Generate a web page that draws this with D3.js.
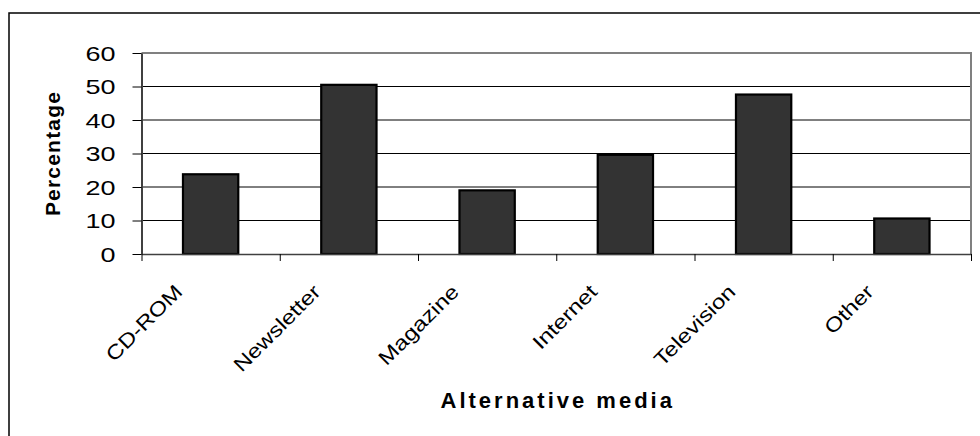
<!DOCTYPE html>
<html>
<head>
<meta charset="utf-8">
<script src="https://cdn.jsdelivr.net/npm/d3@7"></script>
<style>
  html, body { margin: 0; padding: 0; background: #fff; }
  svg { display: block; }
  text { font-family: "Liberation Sans", Arial, sans-serif; fill: #000; }
</style>
</head>
<body>
<svg id="chart" width="980" height="436"></svg>
<script>
// Share of respondents naming each alternative medium
const categories = ["CD-ROM", "Newsletter", "Magazine", "Internet", "Television", "Other"];
const percentages = [23.8, 50.5, 19, 29.6, 47.6, 10.6];
const yTickValues = [0, 10, 20, 30, 40, 50, 60];
const xTitle = "Alternative media";
const yTitle = "Percentage";

const svg = d3.select("#chart");

const plot = { left: 141.5, right: 971, top: 53, bottom: 254 };

// Outer chart frame (runs off the right and bottom edges)
svg.append("rect")
  .attr("x", 9).attr("y", 13)
  .attr("width", 1100).attr("height", 600)
  .attr("fill", "none").attr("stroke", "#000").attr("stroke-width", 1.5);

const y = d3.scaleLinear().domain([0, 60]).range([plot.bottom, plot.top]);
const x = d3.scaleBand().domain(categories)
  .range([plot.left, plot.right])
  .paddingInner(0.6).paddingOuter(0.3);
const xEdges = d3.scaleLinear().domain([0, categories.length]).range([plot.left, plot.right]);

// Horizontal gridlines
svg.append("g")
  .selectAll("line")
  .data(yTickValues.filter(v => v > 0 && v < 60))
  .join("line")
  .attr("x1", plot.left).attr("x2", plot.right)
  .attr("y1", d => y(d)).attr("y2", d => y(d))
  .attr("stroke", "#000").attr("stroke-width", 1);

// Plot-area border: top and right edges in grey
svg.append("path")
  .attr("d", `M${plot.left},${y(60)}H${plot.right}V${plot.bottom}`)
  .attr("fill", "none").attr("stroke", "#808080").attr("stroke-width", 2);

// Bars
svg.append("g")
  .selectAll("rect")
  .data(categories.map((c, i) => ({ c, v: percentages[i] })))
  .join("rect")
  .attr("x", d => x(d.c))
  .attr("y", d => y(d.v))
  .attr("width", x.bandwidth())
  .attr("height", d => y(0) - y(d.v))
  .attr("fill", "#333333")
  .attr("stroke", "#000").attr("stroke-width", 2.2);

// Y axis
const yAxis = svg.append("g")
  .attr("transform", `translate(${plot.left},0)`)
  .call(d3.axisLeft(y).tickValues(yTickValues).tickSize(9).tickPadding(0).tickSizeOuter(0));
yAxis.select(".domain").attr("stroke", "#404040").attr("stroke-width", 2);
yAxis.selectAll(".tick line").attr("stroke", "#000").attr("stroke-width", 1);
yAxis.selectAll(".tick text")
  .attr("x", null).attr("dy", "0.36em")
  .attr("transform", "translate(-26,0) scale(1.35,1)")
  .attr("text-anchor", "end")
  .style("font-size", "20px")
  .style("font-family", "'Liberation Sans', Arial, sans-serif");

// X axis: tick marks on category boundaries
const xAxis = svg.append("g")
  .attr("transform", `translate(0,${plot.bottom})`)
  .call(d3.axisBottom(xEdges).ticks(categories.length).tickSize(7).tickFormat("").tickSizeOuter(0));
xAxis.select(".domain").attr("stroke", "#404040").attr("stroke-width", 1.5);
xAxis.selectAll(".tick line").attr("stroke", "#000").attr("stroke-width", 1);

// Rotated category labels
svg.append("g")
  .selectAll("text")
  .data(categories)
  .join("text")
  .attr("transform", d => `translate(${x(d) + x.bandwidth() / 2 - 27},293) rotate(-45) scale(1.2,1)`)
  .attr("text-anchor", "end")
  .style("font-size", "20px")
  .text(d => d);

// Axis titles
svg.append("text")
  .attr("transform", `translate(60,${(plot.top + plot.bottom) / 2}) rotate(-90)`)
  .attr("text-anchor", "middle")
  .style("font-size", "21px").style("font-weight", "bold")
  .style("letter-spacing", "1.2px")
  .text(yTitle);

svg.append("text")
  .attr("x", (plot.left + plot.right) / 2 + 1.5).attr("y", 408)
  .attr("text-anchor", "middle")
  .style("font-size", "22px").style("font-weight", "bold")
  .style("letter-spacing", "3px")
  .text(xTitle);
</script>
</body>
</html>
